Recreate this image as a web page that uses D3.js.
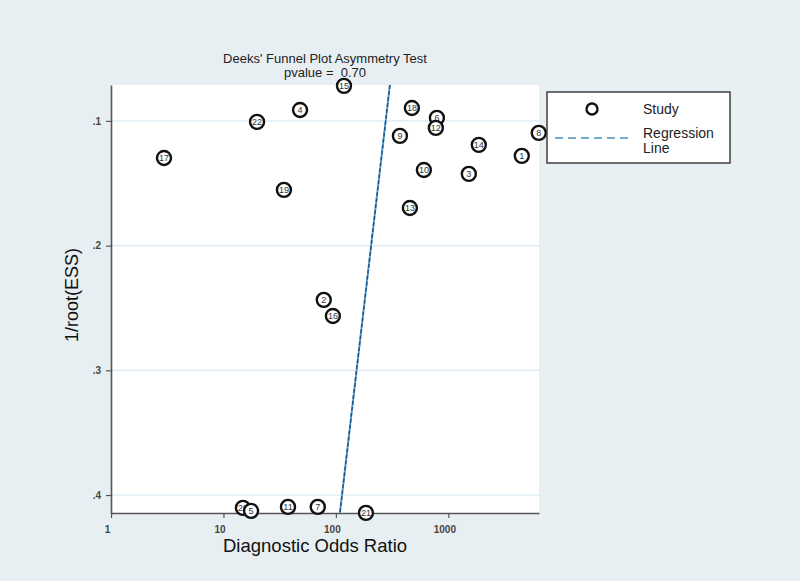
<!DOCTYPE html>
<html>
<head>
<meta charset="utf-8">
<script src="https://cdn.jsdelivr.net/npm/d3@7"></script>
<style>
  body { margin: 0; background: #e8eff3; }
  svg { display: block; font-family: "Liberation Sans", Arial, sans-serif; }
</style>
</head>
<body>
<div id="chart"></div>
<script>
// Study data
var studyIds = ["15", "4", "22", "17", "19", "18", "6", "12", "9", "14", "1", "8", "10", "3", "13", "2", "16", "20", "5", "11", "7", "21"];
var dorValues = [118, 48, 19.9, 2.96, 34.5, 474, 791, 774, 371, 1866, 4500, 6370, 606, 1521, 455, 78, 94, 14.9, 17.6, 37.5, 69, 185];
var essValues = [0.0719, 0.0912, 0.1008, 0.1297, 0.1553, 0.0896, 0.0976, 0.1056, 0.112, 0.1192, 0.128, 0.1096, 0.1393, 0.1425, 0.1698, 0.2435, 0.2564, 0.4103, 0.4127, 0.4095, 0.4095, 0.4143];

// Regression line end points (DOR at top and bottom of plot)
var regX = [302, 108.6];
var regY = [0.0712, 0.4144];

var xTicks = [1, 10, 100, 1000];
var yTicks = [0.1, 0.2, 0.3, 0.4];
var yTickLabels = [".1", ".2", ".3", ".4"];

var svgWidth = 800;
var svgHeight = 581;

var chartMargin = { top: 85, right: 261, bottom: 68, left: 111 };
var chartWidth = svgWidth - chartMargin.left - chartMargin.right;
var chartHeight = svgHeight - chartMargin.top - chartMargin.bottom;

var svg = d3.select("#chart")
  .append("svg")
  .attr("width", svgWidth)
  .attr("height", svgHeight);

svg.append("rect")
  .attr("width", svgWidth)
  .attr("height", svgHeight)
  .attr("fill", "#e8eff3");

var chartGroup = svg.append("g")
  .attr("transform", `translate(${chartMargin.left}, ${chartMargin.top})`);

// plot area
chartGroup.append("rect")
  .attr("width", chartWidth)
  .attr("height", chartHeight)
  .attr("fill", "#ffffff");

var xScale = d3.scaleLog()
  .domain([1, 6400])
  .range([0, chartWidth]);

var yScale = d3.scaleLinear()
  .domain([0.0712, 0.4144])
  .range([0, chartHeight]);

// gridlines
chartGroup.selectAll(".grid")
  .data(yTicks)
  .enter()
  .append("line")
  .attr("x1", 0)
  .attr("x2", chartWidth)
  .attr("y1", d => yScale(d))
  .attr("y2", d => yScale(d))
  .attr("stroke", "#dbe9f2")
  .attr("stroke-width", 1.2);

// axes
var bottomAxis = d3.axisBottom(xScale)
  .tickValues(xTicks)
  .tickFormat(d3.format("d"))
  .tickSizeInner(5)
  .tickSizeOuter(0)
  .tickPadding(8);

var leftAxis = d3.axisLeft(yScale)
  .tickValues(yTicks)
  .tickFormat((d, i) => yTickLabels[i])
  .tickSizeInner(5)
  .tickSizeOuter(0)
  .tickPadding(5);

var xAxis = chartGroup.append("g")
  .attr("transform", `translate(0, ${chartHeight})`)
  .call(bottomAxis);

var yAxis = chartGroup.append("g")
  .call(leftAxis);

[xAxis, yAxis].forEach(function(ax) {
  ax.select(".domain").attr("stroke", "#555").attr("stroke-width", 1.6);
  ax.selectAll(".tick line").attr("stroke", "#555").attr("stroke-width", 1.2);
  ax.selectAll(".tick text")
    .attr("fill", "#444")
    .attr("font-size", "10px")
    .attr("font-weight", "bold")
    .style("font-family", "Liberation Sans, Arial, sans-serif");
});
xAxis.selectAll(".tick text").attr("dx", "-4px");

// regression line
chartGroup.append("line")
  .attr("x1", xScale(regX[0]))
  .attr("y1", yScale(regY[0]))
  .attr("x2", xScale(regX[1]))
  .attr("y2", yScale(regY[1]))
  .attr("stroke", "#5fa3cf")
  .attr("stroke-width", 2);

chartGroup.append("line")
  .attr("x1", xScale(regX[0]))
  .attr("y1", yScale(regY[0]))
  .attr("x2", xScale(regX[1]))
  .attr("y2", yScale(regY[1]))
  .attr("stroke", "#1d4f86")
  .attr("stroke-width", 1.4)
  .attr("stroke-dasharray", "4,2");

// study markers
var studies = studyIds.map((id, i) => ({ id: id, dor: dorValues[i], ess: essValues[i] }));

var pointsGroup = chartGroup.selectAll(".study")
  .data(studies)
  .enter()
  .append("g")
  .attr("transform", d => `translate(${xScale(d.dor)}, ${yScale(d.ess)})`);

pointsGroup.append("circle")
  .attr("r", 7)
  .attr("fill", "#ffffff")
  .attr("stroke", "#111")
  .attr("stroke-width", 2.4);

pointsGroup.append("text")
  .attr("text-anchor", "middle")
  .attr("dy", "0.35em")
  .attr("font-size", "9px")
  .attr("fill", "#333")
  .text(d => d.id);

// title
svg.append("text")
  .attr("x", 325)
  .attr("y", 63)
  .attr("text-anchor", "middle")
  .attr("font-size", "13px")
  .attr("fill", "#222")
  .text("Deeks' Funnel Plot Asymmetry Test");

svg.append("text")
  .attr("x", 325)
  .attr("y", 77)
  .attr("text-anchor", "middle")
  .attr("font-size", "13px")
  .attr("fill", "#222")
  .text("pvalue =\u00a0\u00a00.70");

// axis titles
svg.append("text")
  .attr("x", 223)
  .attr("y", 552)
  .attr("font-size", "18.5px")
  .attr("fill", "#111")
  .text("Diagnostic Odds Ratio");

svg.append("text")
  .attr("transform", "translate(78, 295) rotate(-90)")
  .attr("text-anchor", "middle")
  .attr("font-size", "18px")
  .attr("fill", "#111")
  .text("1/root(ESS)");

// legend
var legend = svg.append("g")
  .attr("transform", "translate(547, 92)");

legend.append("rect")
  .attr("width", 183)
  .attr("height", 71)
  .attr("fill", "#ffffff")
  .attr("stroke", "#333")
  .attr("stroke-width", 1.4);

legend.append("circle")
  .attr("cx", 45)
  .attr("cy", 17)
  .attr("r", 5.5)
  .attr("fill", "#ffffff")
  .attr("stroke", "#111")
  .attr("stroke-width", 2.4);

legend.append("line")
  .attr("x1", 8)
  .attr("x2", 83)
  .attr("y1", 46)
  .attr("y2", 46)
  .attr("stroke", "#4a8fc0")
  .attr("stroke-width", 1.5)
  .attr("stroke-dasharray", "8,5");

legend.append("text")
  .attr("x", 96)
  .attr("y", 22)
  .attr("font-size", "14px")
  .attr("fill", "#222")
  .text("Study");

legend.append("text")
  .attr("x", 96)
  .attr("y", 46)
  .attr("font-size", "14px")
  .attr("fill", "#222")
  .text("Regression");

legend.append("text")
  .attr("x", 96)
  .attr("y", 61)
  .attr("font-size", "14px")
  .attr("fill", "#222")
  .text("Line");
</script>
</body>
</html>
